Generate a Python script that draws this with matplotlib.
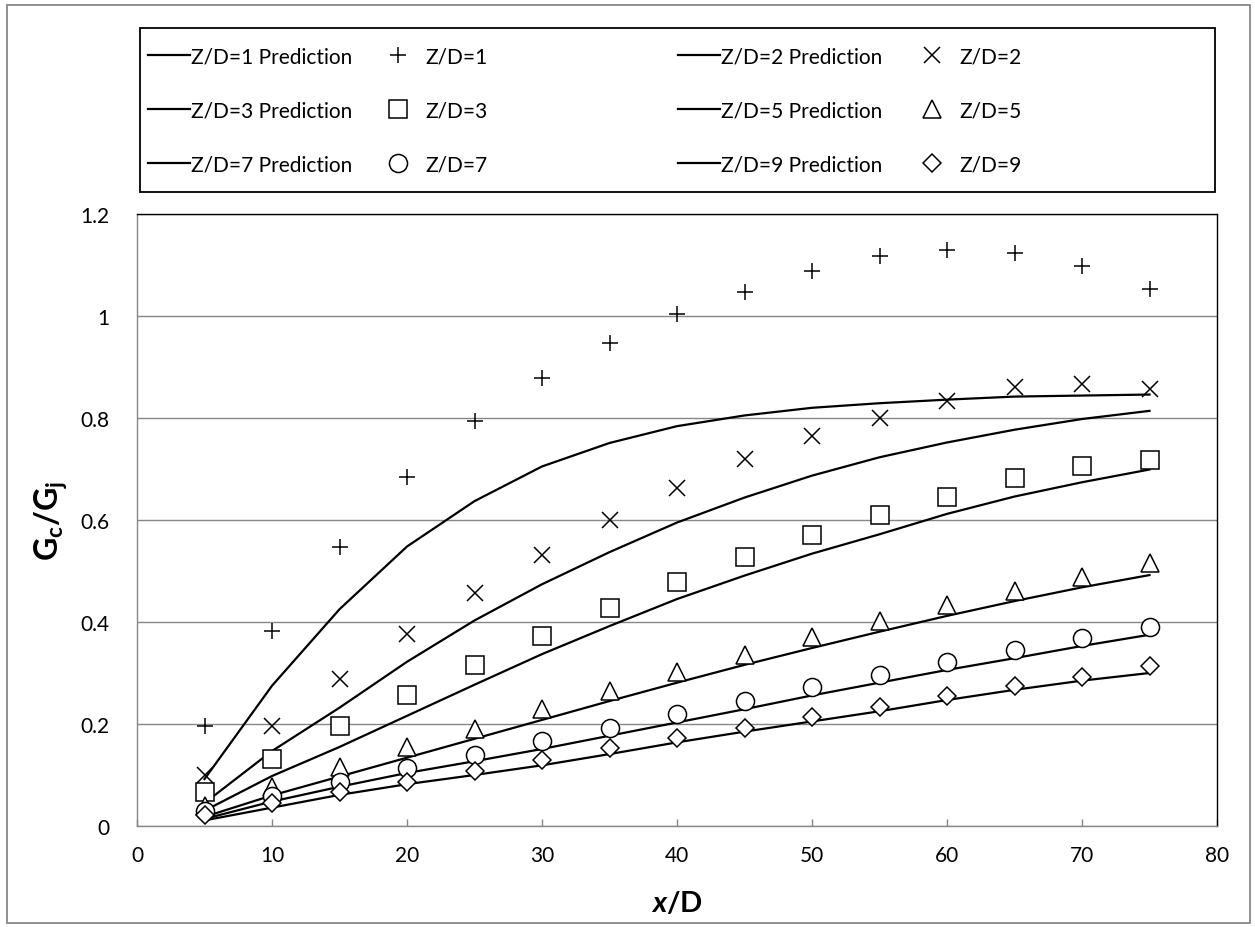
import numpy as np
import matplotlib.pyplot as plt
from matplotlib.patches import Rectangle
from matplotlib.ticker import FormatStrFormatter

plt.rcParams['font.family'] = ['Lato', 'DejaVu Sans']
plt.rcParams['mathtext.fontset'] = 'custom'
plt.rcParams['mathtext.rm'] = 'Lato'
plt.rcParams['mathtext.bf'] = 'Lato:bold'
plt.rcParams['mathtext.it'] = 'Lato:italic'
plt.rcParams['mathtext.bfit'] = 'Lato:italic:bold'

# x/D stations
xd = [5, 10, 15, 20, 25, 30, 35, 40, 45, 50, 55, 60, 65, 70, 75]

# model predictions
pred1 = [0.092, 0.275, 0.425, 0.548, 0.637, 0.705, 0.751, 0.784, 0.805, 0.820, 0.829, 0.836, 0.842, 0.844, 0.846]
pred2 = [0.045, 0.147, 0.232, 0.322, 0.403, 0.474, 0.537, 0.595, 0.644, 0.687, 0.723, 0.752, 0.777, 0.798, 0.814]
pred3 = [0.030, 0.098, 0.155, 0.216, 0.277, 0.337, 0.392, 0.445, 0.491, 0.534, 0.572, 0.612, 0.646, 0.674, 0.699]
pred5 = [0.018, 0.060, 0.097, 0.134, 0.171, 0.208, 0.245, 0.281, 0.316, 0.349, 0.381, 0.412, 0.441, 0.468, 0.492]
pred7 = [0.014, 0.048, 0.077, 0.104, 0.127, 0.151, 0.177, 0.203, 0.229, 0.256, 0.281, 0.306, 0.329, 0.353, 0.375]
pred9 = [0.011, 0.036, 0.061, 0.082, 0.100, 0.119, 0.141, 0.164, 0.185, 0.205, 0.225, 0.247, 0.267, 0.285, 0.300]

# measurements
pts1 = [0.197, 0.383, 0.547, 0.684, 0.795, 0.878, 0.948, 1.003, 1.048, 1.088, 1.117, 1.129, 1.123, 1.098, 1.053]
pts2 = [0.100, 0.197, 0.288, 0.376, 0.457, 0.532, 0.600, 0.662, 0.720, 0.765, 0.800, 0.833, 0.860, 0.867, 0.857]
pts3 = [0.066, 0.131, 0.196, 0.257, 0.315, 0.372, 0.427, 0.479, 0.527, 0.571, 0.610, 0.646, 0.683, 0.706, 0.718]
pts5 = [0.040, 0.077, 0.116, 0.155, 0.191, 0.229, 0.265, 0.301, 0.335, 0.370, 0.402, 0.433, 0.461, 0.488, 0.515]
pts7 = [0.030, 0.058, 0.086, 0.113, 0.139, 0.166, 0.193, 0.220, 0.246, 0.272, 0.296, 0.321, 0.345, 0.369, 0.391]
pts9 = [0.022, 0.045, 0.066, 0.087, 0.108, 0.129, 0.152, 0.173, 0.193, 0.214, 0.234, 0.254, 0.274, 0.293, 0.313]

W, H = 1255, 928
fig = plt.figure(figsize=(W / 100, H / 100), dpi=100)
ax = fig.add_axes([137 / W, 1 - 827 / H, 1080 / W, 612 / H])

grey = '#878787'

preds = [pred1, pred2, pred3, pred5, pred7, pred9]
pts = [pts1, pts2, pts3, pts5, pts7, pts9]
names = ['1', '2', '3', '5', '7', '9']
marks = ['+', 'x', 's', '^', 'o', 'D']
sizes = [12, 11, 13, 13.5, 13, 9.5]

lines = {}
dots = {}
for p, n in zip(preds, names):
    lines[n], = ax.plot(xd, p, color='black', lw=1.6, zorder=2,
                        label='Z/D=' + n + ' Prediction')
for p, n, m, s in zip(pts, names, marks, sizes):
    dots[n], = ax.plot(xd, p, ls='none', marker=m, ms=s, mfc='white',
                       mec='black', mew=1.1, zorder=3, label='Z/D=' + n)

ax.set_xlim(0, 80)
ax.set_ylim(0, 1.2)
ax.set_xticks(np.arange(0, 81, 10))
ax.set_yticks(np.arange(0, 1.21, 0.2))
ax.yaxis.set_major_formatter(FormatStrFormatter('%g'))
ax.grid(axis='y', color=grey, lw=1.0)
ax.set_axisbelow(True)
ax.tick_params(axis='x', direction='in', length=5, color=grey, width=1.0,
               labelsize=15, pad=14)
ax.tick_params(axis='y', length=0, labelsize=15, pad=20)
for s in ['left', 'bottom']:
    ax.spines[s].set_color(grey)
    ax.spines[s].set_linewidth(1.0)
for s in ['top', 'right']:
    ax.spines[s].set_color('black')
    ax.spines[s].set_linewidth(1.0)

ax.set_xlabel(r'$\mathbfit{x}$/D', fontsize=21, fontweight='bold')
ax.xaxis.set_label_coords(0.5, -0.103)
ax.set_ylabel(r'G$_\mathbf{c}$/G$_\mathbf{j}$', fontsize=23, fontweight='bold')
ax.yaxis.set_label_coords(-0.062, 0.5)

# legend: four columns, each its own legend
ytop = 47
cols = [
    ([lines['1'], lines['3'], lines['7']], 148, 0.05),
    ([dots['1'], dots['3'], dots['7']], 377, 0.3),
    ([lines['2'], lines['5'], lines['9']], 678, 0.05),
    ([dots['2'], dots['5'], dots['9']], 911, 0.3),
]
for hs, xl, tp in cols:
    fig.legend(hs, [h.get_label() for h in hs], loc='upper left',
               bbox_to_anchor=(xl / W, 1 - ytop / H), frameon=False,
               fontsize=15, handlelength=2.0, handletextpad=tp,
               labelspacing=1.65, borderpad=0, borderaxespad=0)

fig.add_artist(Rectangle((140 / W, 1 - 193 / H), 1075 / W, 164 / H,
                         transform=fig.transFigure, fill=False,
                         ec='black', lw=1.3))
fig.add_artist(Rectangle((7 / W, 4 / H), 1243 / W, (H - 10) / H,
                         transform=fig.transFigure, fill=False,
                         ec=grey, lw=1.3))

fig.savefig('out.png', dpi=100)
